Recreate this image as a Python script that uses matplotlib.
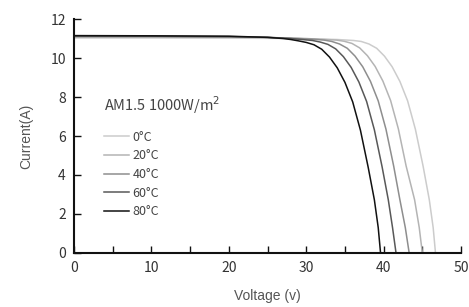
import matplotlib.pyplot as plt
from matplotlib.ticker import MultipleLocator

# I-V curves, one per cell temperature
temps = ["0°C", "20°C", "40°C", "60°C", "80°C"]

v_0 = [0, 10, 20, 25, 30, 34, 36.1, 37.1, 38.1, 39.1, 40.1, 41.1, 42.1, 43.1, 44.1, 45.1, 45.9, 46.4, 46.7]
i_0 = [11.03, 11.03, 11.02, 11.01, 10.99, 10.95, 10.9, 10.85, 10.72, 10.5, 10.1, 9.55, 8.8, 7.8, 6.35, 4.45, 2.73, 1.3, 0]

v_20 = [0, 10, 20, 25, 30, 32, 33.9, 34.9, 35.9, 36.9, 37.9, 38.9, 39.9, 40.9, 41.9, 42.9, 44.0, 44.6, 45.0]
i_20 = [11.08, 11.08, 11.07, 11.05, 11.0, 10.96, 10.92, 10.86, 10.75, 10.52, 10.12, 9.57, 8.82, 7.82, 6.37, 4.47, 2.73, 1.3, 0]

v_40 = [0, 10, 20, 25, 29, 31, 32.3, 33.3, 34.3, 35.3, 36.3, 37.3, 38.3, 39.3, 40.3, 41.3, 42.1, 42.8, 43.3]
i_40 = [11.1, 11.1, 11.08, 11.06, 11.0, 10.96, 10.92, 10.85, 10.72, 10.5, 10.1, 9.55, 8.8, 7.8, 6.35, 4.45, 2.73, 1.3, 0]

v_60 = [0, 10, 20, 25, 28, 30.8, 31.8, 32.8, 33.8, 34.8, 35.8, 36.8, 37.8, 38.8, 39.8, 40.6, 41.15, 41.6]
i_60 = [11.13, 11.12, 11.1, 11.06, 11.0, 10.9, 10.82, 10.7, 10.47, 10.07, 9.52, 8.77, 7.77, 6.32, 4.42, 2.73, 1.3, 0]

v_80 = [0, 10, 20, 25, 27, 28, 29, 30, 31, 32, 33, 34, 35, 36, 37, 38, 38.8, 39.3, 39.6]
i_80 = [11.15, 11.14, 11.12, 11.06, 11.0, 10.95, 10.88, 10.8, 10.68, 10.45, 10.05, 9.5, 8.75, 7.75, 6.3, 4.4, 2.73, 1.3, 0]

curves = [(v_0, i_0), (v_20, i_20), (v_40, i_40), (v_60, i_60), (v_80, i_80)]
colors = ["#cccccc", "#b4b4b4", "#8e8e8e", "#585858", "#111111"]

fig = plt.figure(figsize=(4.69, 3.07), dpi=100)
ax = fig.add_axes([0.158, 0.176, 0.825, 0.762])

for (v, i), c, t in zip(curves, colors, temps):
    ax.plot(v, i, color=c, lw=1.1, label=t)

ax.set_xlim(0, 50)
ax.set_ylim(0, 12)
ax.xaxis.set_major_locator(MultipleLocator(10))
ax.xaxis.set_minor_locator(MultipleLocator(5))
ax.yaxis.set_major_locator(MultipleLocator(2))

for s in ["top", "right"]:
    ax.spines[s].set_visible(False)
for s in ["left", "bottom"]:
    ax.spines[s].set_linewidth(1.5)
    ax.spines[s].set_color("#111111")

ax.tick_params(which="both", direction="in", length=5, width=1, color="#111111",
               labelsize=10, labelcolor="#333333", pad=6)
for lab in ax.get_xticklabels() + ax.get_yticklabels():
    lab.set_fontfamily("Noto Sans CJK SC")
    lab.set_fontweight("light")

ax.set_xlabel("Voltage (v)", fontsize=10, color="#555555", family="Liberation Sans", labelpad=10)
ax.set_ylabel("Current(A)", fontsize=10, color="#555555", family="Liberation Sans", labelpad=12)

leg = ax.legend(loc="upper left", bbox_to_anchor=(0.078, 0.68), frameon=False,
                title="AM1.5 1000W/m$^2$", alignment="left",
                prop={"family": "Noto Sans CJK SC", "weight": "light", "size": 9},
                handlelength=2.0, handletextpad=0.25, labelspacing=0.45,
                borderpad=0, borderaxespad=0)
leg.get_title().set_fontfamily("Noto Sans CJK SC")
leg.get_title().set_fontweight("light")
leg.get_title().set_fontsize(10.5)
leg.get_title().set_color("#444444")
leg._legend_box.sep = 11
for t in leg.get_texts():
    t.set_color("#444444")

fig.savefig("out.png", dpi=100)
